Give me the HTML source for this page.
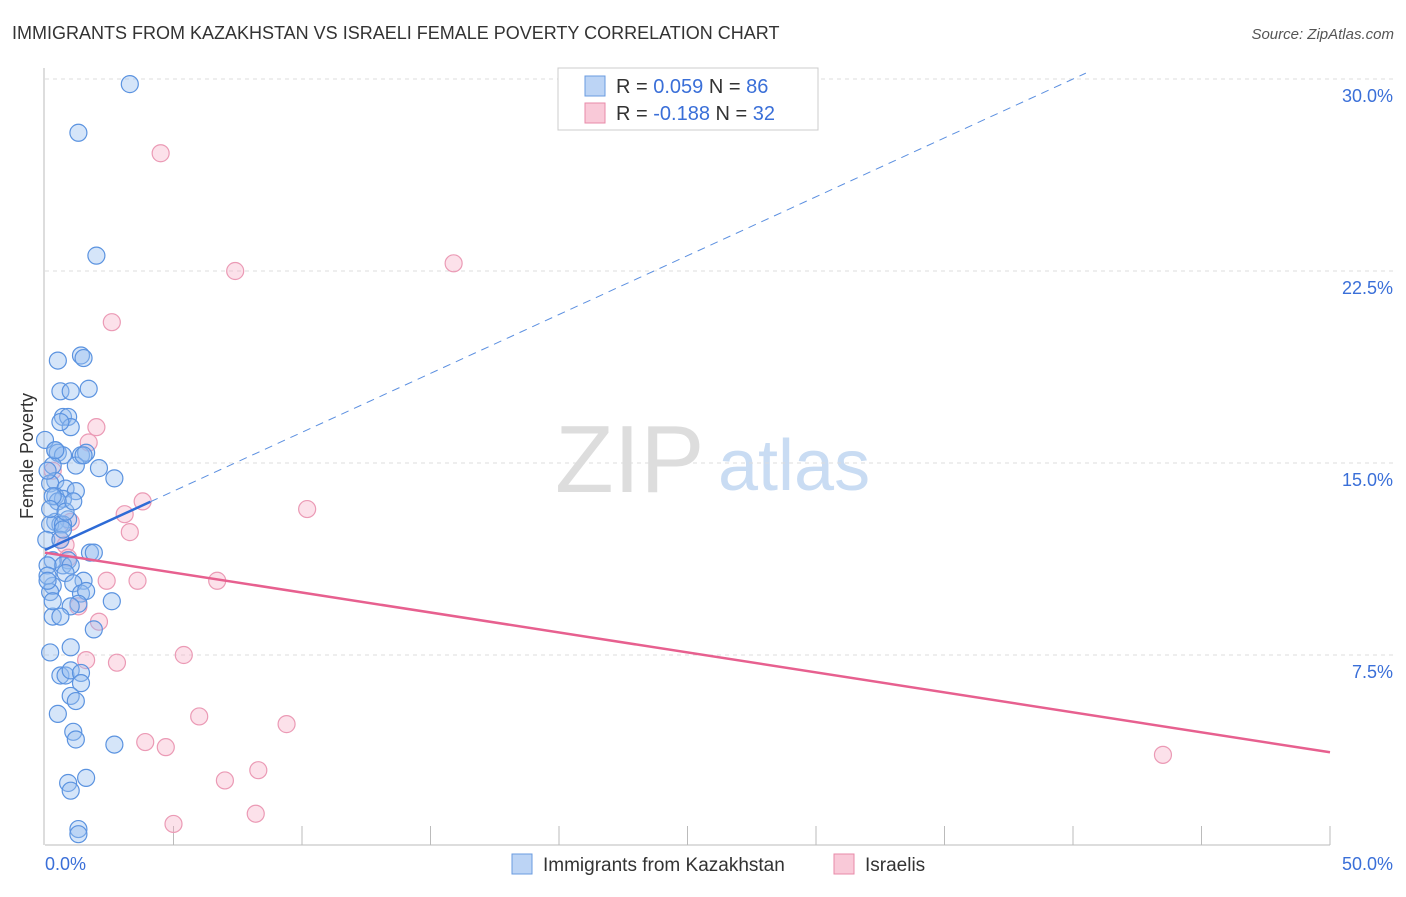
<!DOCTYPE html>
<html><head><meta charset="utf-8"><style>
body{margin:0;background:#fff;font-family:"Liberation Sans",sans-serif;}
svg text{font-family:"Liberation Sans",sans-serif;}
</style></head><body>
<svg id="chart" width="1406" height="892" xmlns="http://www.w3.org/2000/svg">
<text x="12" y="39" font-size="18" fill="#333">IMMIGRANTS FROM KAZAKHSTAN VS ISRAELI FEMALE POVERTY CORRELATION CHART</text>
<text x="1394" y="39" font-size="15" fill="#555" text-anchor="end" font-style="italic">Source: ZipAtlas.com</text>
<text transform="translate(33,456) rotate(-90)" font-size="18" fill="#333" text-anchor="middle">Female Poverty</text>
<g><text x="555" y="492" font-size="96" fill="#ddd" font-family="Liberation Serif">ZIP</text><text x="718" y="490" font-size="72" fill="#c9dcf3">atlas</text></g>
<g id="grid"></g><g id="axes"></g><g id="pts"></g><g id="lines"></g>
<g>
<rect x="558" y="68" width="260" height="62" fill="#fff" stroke="#ccc"/>
<rect x="585" y="76" width="20" height="20" fill="#bcd4f5" stroke="#6a9be0"/>
<text x="616" y="93" font-size="20" fill="#333">R = <tspan fill="#3a6fd8">0.059</tspan>   N = <tspan fill="#3a6fd8">86</tspan></text>
<rect x="585" y="103" width="20" height="20" fill="#f9c9d8" stroke="#e88aa8"/>
<text x="616" y="120" font-size="20" fill="#333">R = <tspan fill="#3a6fd8">-0.188</tspan>   N = <tspan fill="#3a6fd8">32</tspan></text>
</g>
<g>
<rect x="512" y="854" width="20" height="20" fill="#bcd4f5" stroke="#6a9be0"/>
<text x="543" y="871" font-size="19" fill="#333">Immigrants from Kazakhstan</text>
<rect x="834" y="854" width="20" height="20" fill="#f9c9d8" stroke="#e88aa8"/>
<text x="865" y="871" font-size="19" fill="#333">Israelis</text>
</g>
</svg>
<script>
const yTicks=[7.5,15,22.5,30];
const yTickLabels=["7.5%","15.0%","22.5%","30.0%"];
const xTickLabels=["0.0%","50.0%"];
const blueX=[3.3,1.3,2.0,0.5,1.4,1.5,0.6,1.0,1.7,0.7,0.9,1.0,0.6,0.4,0.5,0.7,1.4,1.6,1.2,2.1,0.3,2.7,0.4,0.2,0.8,1.2,0.4,0.7,0.5,0.3,0.9,0.4,0.6,0.2,0.7,1.75,1.9,0.9,0.3,0.7,1.0,0.1,0.8,1.5,1.1,0.3,0.2,1.4,1.6,2.6,1.3,1.0,0.3,1.9,1.0,0.2,0.6,0.8,1.0,1.4,1.4,1.0,1.2,0.5,1.1,1.2,2.7,0.9,1.6,1.0,1.3,1.3,0.0,0.1,0.2,0.05,0.1,0.8,0.6,1.1,0.4,1.5,0.3,0.6,0.1,0.7];
const blueY=[29.8,27.9,23.1,19.0,19.2,19.1,17.8,17.8,17.9,16.8,16.8,16.4,16.6,15.5,15.4,15.3,15.3,15.4,14.9,14.8,14.9,14.4,14.3,14.2,14.0,13.9,13.7,13.6,13.5,13.7,12.8,12.7,12.6,12.6,12.6,11.5,11.5,11.2,11.2,11.0,11.0,11.0,10.7,10.4,10.3,10.2,9.96,9.9,10.0,9.6,9.5,9.4,9.0,8.5,7.8,7.6,6.7,6.7,6.9,6.8,6.4,5.9,5.7,5.2,4.5,4.2,4.0,2.5,2.7,2.2,0.7,0.5,15.9,14.7,13.2,12.0,10.6,13.1,12.0,13.5,15.5,15.3,9.6,9.0,10.4,12.4];
const pinkX=[4.5,7.4,15.9,2.6,2.0,1.7,3.8,10.2,3.1,1.0,3.3,0.8,0.9,2.4,3.6,6.7,2.1,1.3,1.6,2.8,5.4,6.0,9.4,3.9,4.7,8.3,7.0,8.2,5.0,43.5,0.6,0.3];
const pinkY=[27.1,22.5,22.8,20.5,16.4,15.8,13.5,13.2,13.0,12.7,12.3,11.8,11.3,10.4,10.4,10.4,8.8,9.4,7.3,7.2,7.5,5.1,4.8,4.1,3.9,3.0,2.6,1.3,0.9,3.6,12.0,14.7];
const blueFit=[11.6,0.46];
const pinkFit=[11.5,-0.156];
const X0=45,X1=1330,Y0=847,PY=25.6;
const sx=v=>X0+(X1-X0)*v/50, sy=v=>Y0-v*PY;
const NS="http://www.w3.org/2000/svg";
function mk(t,a,p){const e=document.createElementNS(NS,t);for(const k in a)e.setAttribute(k,a[k]);p.appendChild(e);return e;}
const grid=document.getElementById('grid'),axes=document.getElementById('axes');
yTicks.forEach((v,i)=>{
 const g=mk('line',{x1:X0,x2:1394,y1:sy(v),y2:sy(v),stroke:'#ddd','stroke-dasharray':'4,4'},grid);
 
 
 const t=mk('text',{x:1393,y:sy(v)+23,'font-size':18,fill:'#3a6fd8','text-anchor':'end'},axes);
 t.textContent=yTickLabels[i];
 
 
});
const xa=mk('line',{x1:X0,x2:X1,y1:845,y2:845,stroke:'#bbb'},axes);


const ya=mk('line',{x1:44,x2:44,y1:68,y2:845,stroke:'#bbb'},axes);


for(let i=1;i<=10;i++){const tk=mk('line',{x1:sx(i*5),x2:sx(i*5),y1:826,y2:845,stroke:'#bbb'},axes);
 
 }
[[0,'start',45],[1,'end',1393]].forEach(([i,an,x])=>{const t=mk('text',{x:x,y:870,'font-size':18,fill:'#3a6fd8','text-anchor':an},axes);t.textContent=xTickLabels[i];
 
 });
const pts=document.getElementById('pts');
pinkX.forEach((v,i)=>{const c=mk('circle',{cx:sx(v),cy:sy(pinkY[i]),r:8.5,fill:'rgba(246,170,195,0.35)',stroke:'#eb9ab5','stroke-width':1.2},pts);
 
 });
blueX.forEach((v,i)=>{const c=mk('circle',{cx:sx(v),cy:sy(blueY[i]),r:8.5,fill:'rgba(150,190,240,0.4)',stroke:'#5b93e0','stroke-width':1.2},pts);
 
 });
const ln=document.getElementById('lines');
const bx=4.1,bEnd=40.5;
let l=mk('line',{x1:sx(0),y1:sy(blueFit[0]),x2:sx(bx),y2:sy(blueFit[0]+blueFit[1]*bx),stroke:'#2e6bd6','stroke-width':2.5},ln);


l=mk('line',{x1:sx(bx),y1:sy(blueFit[0]+blueFit[1]*bx),x2:sx(bEnd),y2:sy(blueFit[0]+blueFit[1]*bEnd),stroke:'#5b8fe0','stroke-width':1,'stroke-dasharray':'8,6'},ln);


l=mk('line',{x1:sx(0),y1:sy(pinkFit[0]),x2:sx(50),y2:sy(pinkFit[0]+pinkFit[1]*50),stroke:'#e7608f','stroke-width':2.5},ln);


</script>
</body></html>
